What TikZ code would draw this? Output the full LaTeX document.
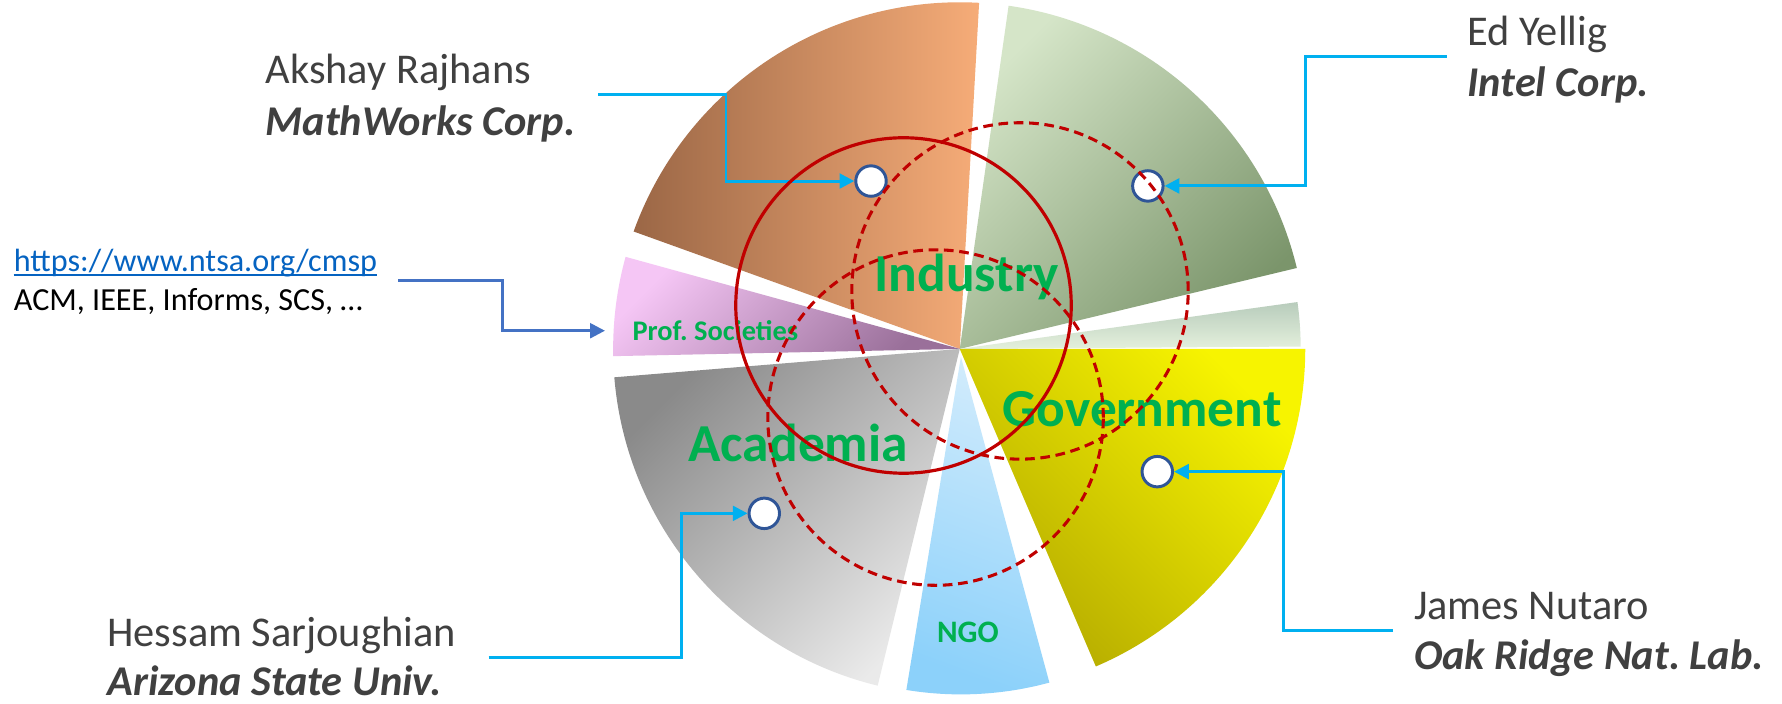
\documentclass[tikz,border=0pt]{standalone}
\usepackage{fontspec}
\setmainfont{Carlito}
\usetikzlibrary{arrows.meta}
\frenchspacing
\definecolor{txtgray}{HTML}{404040}
\definecolor{lblgreen}{HTML}{00B050}
\definecolor{cyanline}{HTML}{00B0F0}
\definecolor{blueline}{HTML}{4472C4}
\definecolor{linkblue}{HTML}{0563C1}
\definecolor{circred}{HTML}{C00000}
\definecolor{dotblue}{HTML}{2F5597}
\definecolor{orA}{HTML}{9B6746}
\definecolor{orB}{HTML}{F6AC78}
\definecolor{grA}{HTML}{D5E5C8}
\definecolor{grB}{HTML}{7B956B}
\definecolor{lgA}{HTML}{B8CCBC}
\definecolor{lgB}{HTML}{C7DDB7}
\definecolor{lgC}{HTML}{E4F0DC}
\definecolor{yeA}{HTML}{F7F400}
\definecolor{yeB}{HTML}{B4AA00}
\definecolor{ngA}{HTML}{D0EBFC}
\definecolor{ngB}{HTML}{8CD1FA}
\definecolor{gyA}{HTML}{8A8A8A}
\definecolor{gyB}{HTML}{EAEAEA}
\definecolor{puA}{HTML}{F5C6F5}
\definecolor{puB}{HTML}{9A709A}
\begin{document}
\begin{tikzpicture}[x=1pt,y=1pt,
  namefont/.style={font=\fontsize{37.3}{44}\selectfont, text=txtgray, inner sep=0, anchor=base west},
  orgfont/.style={font=\fontsize{37.3}{44}\selectfont\bfseries\itshape, text=txtgray, inner sep=0, anchor=base west},
  linkfont/.style={font=\fontsize{28.3}{33}\selectfont, inner sep=0, anchor=base west},
  biglabel/.style={font=\fontsize{47}{50}\selectfont\bfseries, text=lblgreen, inner sep=0},
  smalllabel/.style={font=\fontsize{25}{28}\selectfont\bfseries, text=lblgreen, inner sep=0},
  ngolabel/.style={font=\fontsize{27.5}{30}\selectfont\bfseries, text=lblgreen, inner sep=0},
  dot/.style={circle, draw=dotblue, fill=white, line width=2.6pt, minimum size=26.8pt, inner sep=0},
  conn/.style={draw=cyanline, line width=2.6pt, -{Triangle[length=13pt,width=13pt]}},
  bconn/.style={draw=blueline, line width=2.3pt, -{Triangle[length=13pt,width=13pt]}},
  ring/.style={draw=circred, line width=2.8pt},
  dashring/.style={ring, line width=2.7pt, dash pattern=on 8.5pt off 5pt},
  orangeslice/.style={left color=orA, right color=orB},
  greenslice/.style={top color=grA, bottom color=grB, shading angle=45},
  lgreenslice/.style={top color=lgA, middle color=lgB, bottom color=lgC},
  yellowslice/.style={top color=yeA, bottom color=yeB, shading angle=-45},
  ngoslice/.style={top color=ngA, bottom color=ngB, shading angle=-20},
  grayslice/.style={top color=gyA, bottom color=gyB, shading angle=45},
  purpleslice/.style={top color=puA, bottom color=puB, shading angle=45},
]
\useasboundingbox (0,-618.6) rectangle (1568,0);
\fill[white] (0,-618.6) rectangle (1568,0);

% pie slices
\coordinate (C) at (844.5,-307);
\coordinate (N) at (845.5,-314);
\shade[orangeslice] (C) -- ++(86.8:305) arc[start angle=86.8, end angle=160.2, radius=305] -- cycle;
\shade[greenslice] (C) -- ++(13.5:305) arc[start angle=13.5, end angle=81.9, radius=305] -- cycle;
\shade[lgreenslice] (C) -- ++(0.4:300) arc[start angle=0.4, end angle=7.9, radius=300] -- cycle;
\shade[yellowslice] (C) -- ++(-66.8:304) arc[start angle=-66.8, end angle=0, radius=304] -- cycle;
\shade[ngoslice] (N) -- ++(-99.3:297) arc[start angle=-99.3, end angle=-74.8, radius=297] -- cycle;
\shade[grayslice] (C) -- ++(184.7:305) arc[start angle=184.7, end angle=256.3, radius=305] -- cycle;
\shade[purpleslice] (C) -- ++(164.6:305) arc[start angle=164.6, end angle=181.2, radius=305] -- cycle;

% sector labels
\node[biglabel, anchor=base] (industry) at (850.5,-256.6) {Industry};
\node[biglabel, anchor=base west] (government) at (882,-375.4) {Government};
\node[biglabel, anchor=base east] (academia) at (799,-406.2) {Academia};
\node[smalllabel, anchor=base east] (prof) at (702.5,-299.2) {Prof. Societies};
\node[ngolabel, anchor=base] (ngo) at (851.6,-565.2) {NGO};

% people
\node[namefont] (akshay) at (233.5,-73.3) {Akshay Rajhans};
\node[orgfont] (mathworks) at (233.5,-118.8) {MathWorks Corp.};
\node[namefont] (ed) at (1291,-39.6) {Ed Yellig};
\node[orgfont] (intel) at (1291,-85) {Intel Corp.};
\node[namefont] (james) at (1244,-545) {James Nutaro};
\node[orgfont] (ornl) at (1244,-589.5) {Oak Ridge Nat. Lab.};
\node[namefont] (hessam) at (94.3,-568.5) {Hessam Sarjoughian};
\node[orgfont] (asu) at (94.3,-612) {Arizona State Univ.};

% societies
\node[linkfont, text=linkblue] (link) at (12,-239) {https://www.ntsa.org/cmsp};
\draw[linkblue, line width=1.6pt] ([yshift=-3pt]link.base west) -- ([yshift=-3pt]link.base east);
\node[linkfont, text=black] (acm) at (12,-272.8) {ACM, IEEE, Informs, SCS, …};

% dots
\node[dot] (d1) at (766.4,-159.3) {};
\node[dot] (d2) at (1010,-163.6) {};
\node[dot] (d3) at (1018.3,-415) {};
\node[dot] (d4) at (672.5,-451.7) {};

% connectors
\coordinate (s1) at (526.2,-83);   \coordinate (b1) at (638.8,-120);
\coordinate (s2) at (1273,-49.9);  \coordinate (b2) at (1148.9,-100);
\coordinate (s3) at (1225.7,-555); \coordinate (b3) at (1129,-480);
\coordinate (s4) at (430,-578.7);  \coordinate (b4) at (599.8,-520);
\coordinate (s5) at (350.3,-247);  \coordinate (b5) at (442,-270);
\coordinate (e5) at (532.3,-291);
\draw[conn] (s1) -| (b1) |- (d1);
\draw[conn] (s2) -| (b2) |- (d2);
\draw[conn] (s3) -| (b3) |- (d3);
\draw[conn] (s4) -| (b4) |- (d4);
\draw[bconn] (s5) -| (b5) |- (e5);

% circles
\draw[ring] (795,-268.8) circle[radius=147.6];
\draw[dashring] (897.5,-256) circle[radius=148];
\draw[dashring] (823.2,-367.4) circle[radius=147.6];
\end{tikzpicture}
\end{document}
